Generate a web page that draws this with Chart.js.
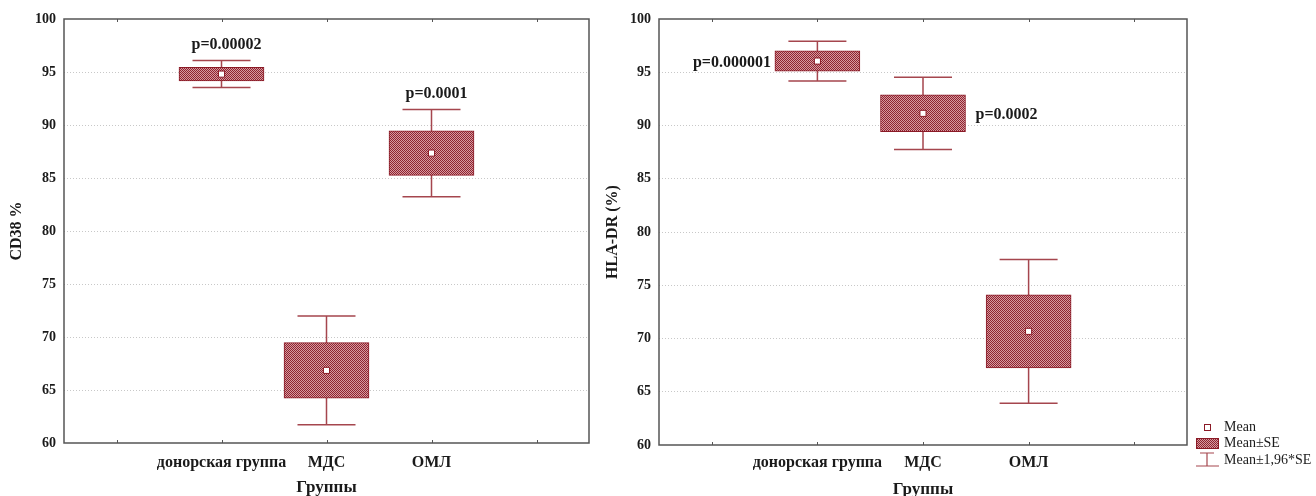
<!DOCTYPE html>
<html>
<head>
<meta charset="utf-8">
<script src="https://cdn.jsdelivr.net/npm/chart.js@4/dist/chart.umd.min.js"></script>
<style>
  html, body { margin: 0; padding: 0; background: #ffffff; }
  #wrap { position: relative; width: 1316px; height: 496px; overflow: hidden; background: #ffffff; }
  canvas { position: absolute; top: 0; }
</style>
</head>
<body>
<div id="wrap">
  <canvas id="cd38" width="600" height="496" style="left:0px"></canvas>
  <canvas id="hla" width="716" height="496" style="left:600px"></canvas>
</div>
<script>
// Groups on the x axis (an empty slot is kept at each end of the axis)
const groups = ['донорская группа', 'МДС', 'ОМЛ'];

// CD38 %: group means and standard errors
const cd38Mean = [94.8, 66.85, 87.35];
const cd38SE = [0.65, 2.62, 2.1];
const cd38P = ['p=0.00002', '', 'p=0.0001'];
const cd38PPlace = ['above', '', 'above'];

// HLA-DR (%): group means and standard errors
const hlaMean = [96.05, 91.14, 70.67];
const hlaSE = [0.95, 1.73, 3.44];
const hlaP = ['p=0.000001', 'p=0.0002', ''];
const hlaPPlace = ['left', 'right', ''];

// Value axis
const yMin = 60;
const yMax = 100;
const yStep = 5;

// Legend entries
const legendLabels = ['Mean', 'Mean±SE', 'Mean±1,96*SE'];

const Z = 1.96;
const SERIF = '"Liberation Serif", "Times New Roman", serif';
const DARK_RED = '#8b1a26';
const WHISKER = '#a5464e';
const FRAME = '#555555';
const TEXT = '#1a1a1a';

const xLabels = ['', ...groups, ''];
const pad = arr => [null, ...arr, null];

// Fine checkered fill used for the Mean±SE boxes
function makePattern(ctx) {
  const tile = document.createElement('canvas');
  tile.width = 2; tile.height = 2;
  const t = tile.getContext('2d');
  t.fillStyle = '#8e2430';
  t.fillRect(0, 0, 2, 2);
  t.fillStyle = '#d79aa0';
  t.fillRect(1, 0, 1, 1);
  t.fillRect(0, 1, 1, 1);
  return ctx.createPattern(tile, 'repeat');
}

// Error whiskers (Mean ± 1,96*SE) drawn below the boxes
const whiskerPlugin = {
  id: 'whiskers',
  beforeDatasetsDraw(chart, args, opts) {
    const { ctx, scales: { x, y } } = chart;
    ctx.save();
    ctx.strokeStyle = WHISKER;
    ctx.lineWidth = 1.5;
    opts.mean.forEach((m, i) => {
      const px = x.getPixelForValue(i + 1);
      const top = y.getPixelForValue(m + Z * opts.se[i]);
      const bot = y.getPixelForValue(m - Z * opts.se[i]);
      const hw = opts.capWidth / 2;
      ctx.beginPath();
      ctx.moveTo(px, top); ctx.lineTo(px, bot);
      ctx.moveTo(px - hw, top); ctx.lineTo(px + hw, top);
      ctx.moveTo(px - hw, bot); ctx.lineTo(px + hw, bot);
      ctx.stroke();
    });
    ctx.restore();
  }
};

// Plot frame with inner tick marks on the top and bottom edges
const framePlugin = {
  id: 'frame',
  afterDraw(chart) {
    const { ctx, chartArea: a, scales: { x } } = chart;
    ctx.save();
    ctx.strokeStyle = FRAME;
    ctx.lineWidth = 1.5;
    ctx.strokeRect(a.left, a.top, a.right - a.left, a.bottom - a.top);
    ctx.lineWidth = 1;
    ctx.beginPath();
    x.ticks.forEach((t, i) => {
      const px = Math.round(x.getPixelForTick(i)) + 0.5;
      ctx.moveTo(px, a.top); ctx.lineTo(px, a.top + 3);
      ctx.moveTo(px, a.bottom); ctx.lineTo(px, a.bottom - 3);
    });
    ctx.stroke();
    ctx.restore();
  }
};

// p-value labels next to the groups
const pLabelPlugin = {
  id: 'pLabels',
  afterDatasetsDraw(chart, args, opts) {
    const { ctx, scales: { x, y } } = chart;
    ctx.save();
    ctx.font = 'bold 16px ' + SERIF;
    ctx.fillStyle = TEXT;
    opts.text.forEach((txt, i) => {
      if (!txt) return;
      const m = opts.mean[i], se = opts.se[i];
      const px = x.getPixelForValue(i + 1);
      const place = opts.place[i];
      if (place === 'above') {
        ctx.textAlign = 'center';
        ctx.textBaseline = 'middle';
        ctx.fillText(txt, px + 5, y.getPixelForValue(m + Z * se) - 16);
      } else if (place === 'left') {
        ctx.textAlign = 'right';
        ctx.textBaseline = 'middle';
        ctx.fillText(txt, px - opts.boxWidth / 2 - 4, y.getPixelForValue(m) + 2);
      } else if (place === 'right') {
        ctx.textAlign = 'left';
        ctx.textBaseline = 'middle';
        ctx.fillText(txt, px + opts.boxWidth / 2 + 10, y.getPixelForValue(m) + 2);
      }
    });
    ctx.restore();
  }
};

// Legend block beside the second plot
const legendPlugin = {
  id: 'boxLegend',
  afterDraw(chart, args, opts) {
    if (!opts.show) return;
    const { ctx, chartArea: a } = chart;
    const sx = a.right + 20;          // symbol centre
    const tx = a.right + 37;          // text start
    const rows = [a.bottom - 18, a.bottom - 2, a.bottom + 15];
    ctx.save();
    // Mean
    ctx.fillStyle = '#ffffff';
    ctx.strokeStyle = DARK_RED;
    ctx.lineWidth = 1;
    ctx.fillRect(sx - 3, rows[0] - 3, 6, 6);
    ctx.strokeRect(sx - 3 + 0.5, rows[0] - 3 + 0.5, 6, 6);
    // Mean±SE
    ctx.fillStyle = makePattern(ctx);
    ctx.fillRect(sx - 11, rows[1] - 5, 23, 11);
    ctx.strokeRect(sx - 11 + 0.5, rows[1] - 5 + 0.5, 22, 10);
    // Mean±1,96*SE
    ctx.strokeStyle = WHISKER;
    ctx.lineWidth = 1.2;
    ctx.beginPath();
    ctx.moveTo(sx - 7, rows[2] - 7); ctx.lineTo(sx + 7, rows[2] - 7);
    ctx.moveTo(sx, rows[2] - 7); ctx.lineTo(sx, rows[2] + 6);
    ctx.moveTo(sx - 11, rows[2] + 6); ctx.lineTo(sx + 12, rows[2] + 6);
    ctx.stroke();
    ctx.fillStyle = TEXT;
    ctx.font = '14px ' + SERIF;
    ctx.textAlign = 'left';
    ctx.textBaseline = 'middle';
    legendLabels.forEach((l, i) => ctx.fillText(l, tx, rows[i]));
    ctx.restore();
  }
};

function buildChart(id, cfg) {
  const canvas = document.getElementById(id);
  const ctx = canvas.getContext('2d');
  const boxes = cfg.mean.map((m, i) => [m - cfg.se[i], m + cfg.se[i]]);
  return new Chart(ctx, {
    type: 'bar',
    data: {
      labels: xLabels,
      datasets: [
        {
          type: 'line',
          label: 'Mean',
          data: pad(cfg.mean),
          showLine: false,
          pointStyle: 'rect',
          pointRadius: 4.3,
          pointBackgroundColor: '#ffffff',
          pointBorderColor: DARK_RED,
          pointBorderWidth: 1,
          order: 0
        },
        {
          label: 'Mean±SE',
          data: pad(boxes),
          backgroundColor: makePattern(ctx),
          borderColor: DARK_RED,
          borderWidth: 1,
          borderSkipped: false,
          barThickness: 85,
          order: 1
        }
      ]
    },
    options: {
      responsive: false,
      animation: false,
      devicePixelRatio: 1,
      layout: { padding: { top: 19, right: cfg.padRight, bottom: 0, left: 0 } },
      plugins: {
        legend: { display: false },
        tooltip: { enabled: false },
        whiskers: { mean: cfg.mean, se: cfg.se, capWidth: 58 },
        pLabels: { mean: cfg.mean, se: cfg.se, text: cfg.pText, place: cfg.pPlace, boxWidth: 85 },
        boxLegend: { show: cfg.legend }
      },
      scales: {
        x: {
          type: 'category',
          offset: true,
          grid: { display: false },
          border: { display: false },
          ticks: {
            autoSkip: false,
            maxRotation: 0,
            padding: cfg.xTickPad,
            color: TEXT,
            font: { family: SERIF, size: 16, weight: 'bold' }
          },
          title: {
            display: true,
            text: 'Группы',
            color: TEXT,
            padding: { top: 0, bottom: cfg.xTitlePad },
            font: { family: SERIF, size: 17, weight: 'bold' }
          },
          afterFit(scale) { scale.height = cfg.xHeight; }
        },
        y: {
          min: yMin,
          max: yMax,
          grid: {
            drawTicks: false,
            color: ctxg => (ctxg.tick && (ctxg.tick.value === yMin || ctxg.tick.value === yMax)) ? 'rgba(0,0,0,0)' : '#c8c8c8',
            lineWidth: 1
          },
          border: { display: false, dash: [1, 2] },
          ticks: {
            stepSize: yStep,
            padding: 8,
            color: TEXT,
            font: { family: SERIF, size: 14, weight: 'bold' }
          },
          title: {
            display: true,
            text: cfg.yTitle,
            color: TEXT,
            padding: { top: cfg.yTitlePad, bottom: 0 },
            font: { family: SERIF, size: 16, weight: 'bold' }
          },
          afterFit(scale) { scale.width = cfg.yWidth; }
        }
      }
    },
    plugins: [whiskerPlugin, pLabelPlugin, framePlugin, legendPlugin]
  });
}

buildChart('cd38', {
  mean: cd38Mean, se: cd38SE, pText: cd38P, pPlace: cd38PPlace,
  yTitle: 'CD38 %', yWidth: 64, yTitlePad: 7.5, xHeight: 53, padRight: 11,
  xTickPad: 2, xTitlePad: -2, legend: false
});

buildChart('hla', {
  mean: hlaMean, se: hlaSE, pText: hlaP, pPlace: hlaPPlace,
  yTitle: 'HLA-DR (%)', yWidth: 59, yTitlePad: 3.5, xHeight: 51, padRight: 129,
  xTickPad: 0, xTitlePad: -4, legend: true
});
</script>
</body>
</html>
